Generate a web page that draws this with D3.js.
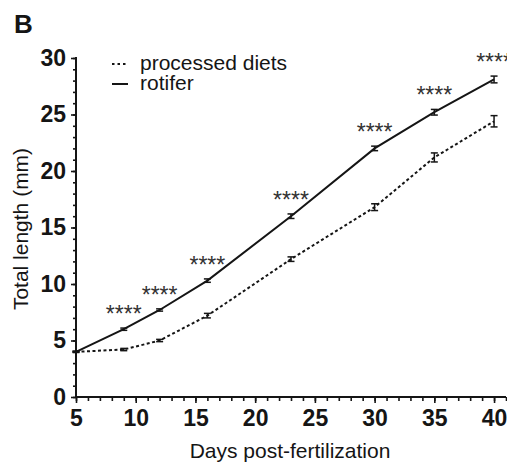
<!DOCTYPE html>
<html>
<head>
<meta charset="utf-8">
<script src="https://cdn.jsdelivr.net/npm/d3@7"></script>
<style>
  html, body { margin: 0; padding: 0; background: #fff; }
  svg { display: block; font-family: "Liberation Sans", Arial, sans-serif; }
</style>
</head>
<body>
<svg id="chart" width="507" height="464"></svg>
<script>
  // days post-fertilization at which fish were measured
  const days          = [5, 9, 12, 16, 23, 30, 35, 40];
  const rotifer       = [4.0, 6.0, 7.7, 10.3, 16.0, 22.0, 25.2, 28.1];
  const rotiferErr    = [0.05, 0.1, 0.1, 0.15, 0.2, 0.2, 0.25, 0.3];
  const processed     = [4.0, 4.2, 5.0, 7.2, 12.2, 16.8, 21.2, 24.4];
  const processedErr  = [0.05, 0.1, 0.1, 0.2, 0.2, 0.3, 0.4, 0.5];
  const signif        = ['', '****', '****', '****', '****', '****', '****', '****'];
  const xTicks        = [5, 10, 15, 20, 25, 30, 35, 40];
  const yTicks        = [0, 5, 10, 15, 20, 25, 30];

  const svg = d3.select('#chart');
  const ink = '#151515';

  const x = d3.scaleLinear().domain([5, 41]).range([76, 506]);
  const y = d3.scaleLinear().domain([0, 30]).range([397, 58]);

  // panel letter
  svg.append('text')
    .attr('x', 14).attr('y', 33)
    .style('font-size', '26px').style('font-weight', 'bold')
    .attr('fill', ink)
    .text('B');

  // x axis
  const xAxis = svg.append('g').attr('transform', 'translate(0,' + y(0) + ')');
  xAxis.call(d3.axisBottom(x).tickValues(d3.range(5, 42, 1)).tickSize(4).tickFormat(''))
    .call(g => g.select('.domain').remove());
  xAxis.append('g')
    .call(d3.axisBottom(x).tickValues(xTicks).tickSize(6).tickPadding(7).tickFormat(d3.format('d')))
    .call(g => g.select('.domain').remove())
    .call(g => g.selectAll('text').style('font-size', '23px').style('font-weight', 'bold').attr('fill', ink));
  xAxis.append('line')
    .attr('x1', x(5) - 1).attr('x2', x(41))
    .attr('stroke', ink).attr('stroke-width', 2);
  xAxis.selectAll('.tick line').attr('stroke', ink).attr('stroke-width', 1.6);

  // y axis
  const yAxis = svg.append('g').attr('transform', 'translate(' + x(5) + ',0)');
  yAxis.call(d3.axisLeft(y).tickValues(d3.range(0, 31, 1)).tickSize(3).tickFormat(''))
    .call(g => g.select('.domain').remove());
  yAxis.append('g')
    .call(d3.axisLeft(y).tickValues(yTicks).tickSize(5).tickPadding(5).tickFormat(d3.format('d')))
    .call(g => g.select('.domain').remove())
    .call(g => g.selectAll('text').style('font-size', '23px').style('font-weight', 'bold').attr('fill', ink));
  yAxis.append('line')
    .attr('y1', y(0) + 1).attr('y2', y(30) - 1)
    .attr('stroke', ink).attr('stroke-width', 2);
  yAxis.selectAll('.tick line').attr('stroke', ink).attr('stroke-width', 1.6);

  // axis titles
  svg.append('text')
    .attr('x', 290).attr('y', 458)
    .attr('text-anchor', 'middle')
    .style('font-size', '21px')
    .attr('fill', ink)
    .text('Days post-fertilization');

  svg.append('text')
    .attr('transform', 'translate(28,' + 229 + ') rotate(-90)')
    .attr('text-anchor', 'middle')
    .style('font-size', '21px')
    .attr('fill', ink)
    .text('Total length (mm)');

  // series
  const line = d3.line().x(d => x(d.day)).y(d => y(d.value));

  function series(values, errs) {
    return days.map((d, i) => ({ day: d, value: values[i], err: errs[i] }));
  }

  const processedData = series(processed, processedErr);
  const rotiferData   = series(rotifer, rotiferErr);

  svg.append('path')
    .datum(processedData)
    .attr('d', line)
    .attr('fill', 'none')
    .attr('stroke', ink)
    .attr('stroke-width', 2)
    .attr('stroke-dasharray', '3,2.5');

  svg.append('path')
    .datum(rotiferData)
    .attr('d', line)
    .attr('fill', 'none')
    .attr('stroke', ink)
    .attr('stroke-width', 2);

  // error bars
  function draw_errors(data) {
    const g = svg.append('g').attr('stroke', ink).attr('stroke-width', 1.5);
    data.forEach(d => {
      const cx = x(d.day);
      const top = y(d.value + d.err);
      const bot = y(d.value - d.err);
      g.append('line').attr('x1', cx).attr('x2', cx).attr('y1', top).attr('y2', bot);
      g.append('line').attr('x1', cx - 3.5).attr('x2', cx + 3.5).attr('y1', top).attr('y2', top);
      g.append('line').attr('x1', cx - 3.5).attr('x2', cx + 3.5).attr('y1', bot).attr('y2', bot);
    });
  }
  draw_errors(processedData);
  draw_errors(rotiferData);

  // significance stars above the rotifer points
  svg.append('g').selectAll('text')
    .data(rotiferData)
    .join('text')
    .attr('x', d => x(d.day))
    .attr('y', d => y(d.value + d.err) - 6)
    .attr('text-anchor', 'middle')
    .style('font-size', '23px')
    .attr('fill', '#333')
    .text((d, i) => signif[i]);

  // legend
  const legend = svg.append('g');
  legend.append('line')
    .attr('x1', 112).attr('x2', 127).attr('y1', 64).attr('y2', 64)
    .attr('stroke', ink).attr('stroke-width', 2).attr('stroke-dasharray', '2.5,3');
  legend.append('text')
    .attr('x', 140).attr('y', 70)
    .style('font-size', '21px').attr('fill', ink)
    .text('processed diets');
  legend.append('line')
    .attr('x1', 112).attr('x2', 128).attr('y1', 84).attr('y2', 84)
    .attr('stroke', ink).attr('stroke-width', 2);
  legend.append('text')
    .attr('x', 140).attr('y', 90)
    .style('font-size', '21px').attr('fill', ink)
    .text('rotifer');
</script>
</body>
</html>
